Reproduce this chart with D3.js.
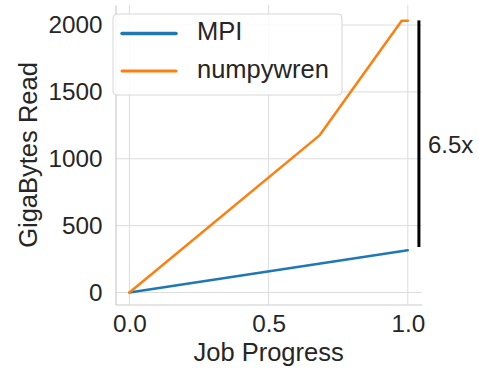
<!DOCTYPE html>
<html>
<head>
<meta charset="utf-8">
<script src="https://cdn.jsdelivr.net/npm/d3@7"></script>
<style>
  html, body { margin: 0; padding: 0; background: #fff; }
  svg { display: block; font-family: "Liberation Sans", Arial, sans-serif; }
</style>
</head>
<body>
<svg id="chart" width="479" height="368"></svg>
<script>
// Job progress (fraction complete) vs cumulative gigabytes read
const mpiProgress = [0.0, 1.0];
const mpiRead = [0, 316];
const numpywrenProgress = [0.0, 0.684, 0.978, 1.0];
const numpywrenRead = [0, 1177, 2032, 2032];

const xTicks = [0.0, 0.5, 1.0];
const yTicks = [0, 500, 1000, 1500, 2000];

const seriesNames = ["MPI", "numpywren"];
const seriesColors = ["#1f77b4", "#ff7f0e"];

// Ratio marker between the two final totals
const ratioLabel = "6.5x";
const ratioX = 1.04;
const ratioTop = 2035;
const ratioBottom = 340;
const ratioLabelY = 1090;

const svg = d3.select("#chart");
const ink = "#262626";

const x = d3.scaleLinear().domain([-0.05, 1.05]).range([115.5, 421.7]);
const y = d3.scaleLinear().domain([-90, 2150]).range([304.5, 5]);

// grid
const grid = svg.append("g");
grid.selectAll("line.gx").data(xTicks).join("line")
  .attr("x1", d => x(d)).attr("x2", d => x(d))
  .attr("y1", y.range()[1]).attr("y2", y.range()[0])
  .attr("stroke", "#dcdcdc").attr("stroke-width", 1);
grid.selectAll("line.gy").data(yTicks).join("line")
  .attr("x1", x.range()[0]).attr("x2", x.range()[1])
  .attr("y1", d => y(d)).attr("y2", d => y(d))
  .attr("stroke", "#dcdcdc").attr("stroke-width", 1);

// axes
const xAxis = svg.append("g")
  .attr("transform", `translate(0,${y.range()[0]})`)
  .call(d3.axisBottom(x).tickValues(xTicks).tickFormat(d3.format(".1f")).tickSize(0).tickPadding(10));
const yAxis = svg.append("g")
  .attr("transform", `translate(${x.range()[0]},0)`)
  .call(d3.axisLeft(y).tickValues(yTicks).tickFormat(d3.format("d")).tickSize(0).tickPadding(13));
[xAxis, yAxis].forEach(a => {
  a.select(".domain").attr("stroke", "#cccccc").attr("stroke-width", 1.2);
  a.selectAll("text").attr("fill", ink).attr("font-size", 24.3)
    .attr("font-family", "'Liberation Sans', Arial, sans-serif");
});

// axis titles
svg.append("text")
  .attr("x", (x(0) + x(1)) / 2).attr("y", 361)
  .attr("text-anchor", "middle").attr("fill", ink).attr("font-size", 25.5)
  .text("Job Progress");
svg.append("text")
  .attr("transform", `translate(37,155) rotate(-90)`)
  .attr("text-anchor", "middle").attr("fill", ink).attr("font-size", 25.5)
  .text("GigaBytes Read");

// lines
const series = [
  mpiProgress.map((p, i) => [p, mpiRead[i]]),
  numpywrenProgress.map((p, i) => [p, numpywrenRead[i]])
];
const line = d3.line().x(d => x(d[0])).y(d => y(d[1]));
svg.append("g").selectAll("path").data(series).join("path")
  .attr("d", line).attr("fill", "none")
  .attr("stroke", (d, i) => seriesColors[i])
  .attr("stroke-width", 2.5)
  .attr("stroke-linejoin", "round").attr("stroke-linecap", "round");

// ratio bar and label
svg.append("line")
  .attr("x1", x(ratioX)).attr("x2", x(ratioX))
  .attr("y1", y(ratioTop)).attr("y2", y(ratioBottom))
  .attr("stroke", "#000").attr("stroke-width", 3);
svg.append("text")
  .attr("x", x(ratioX) + 9).attr("y", y(ratioLabelY))
  .attr("dominant-baseline", "middle")
  .attr("fill", ink).attr("font-size", 24)
  .text(ratioLabel);

// legend
const legend = svg.append("g");
legend.append("rect")
  .attr("x", 113).attr("y", 14).attr("width", 229).attr("height", 81)
  .attr("rx", 4).attr("ry", 4)
  .attr("fill", "rgba(255,255,255,0.85)").attr("stroke", "#d6d6d6").attr("stroke-width", 1);
const items = legend.selectAll("g.item").data(seriesNames).join("g")
  .attr("transform", (d, i) => `translate(0,${33.5 + i * 37.5})`);
items.append("line")
  .attr("x1", 122).attr("x2", 176)
  .attr("stroke", (d, i) => seriesColors[i])
  .attr("stroke-width", (d, i) => i === 0 ? 3.5 : 3)
  .attr("stroke-linecap", "round");
items.append("text")
  .attr("x", 197).attr("y", 0).attr("dominant-baseline", "middle")
  .attr("fill", ink).attr("font-size", 25.5)
  .text(d => d);
</script>
</body>
</html>
